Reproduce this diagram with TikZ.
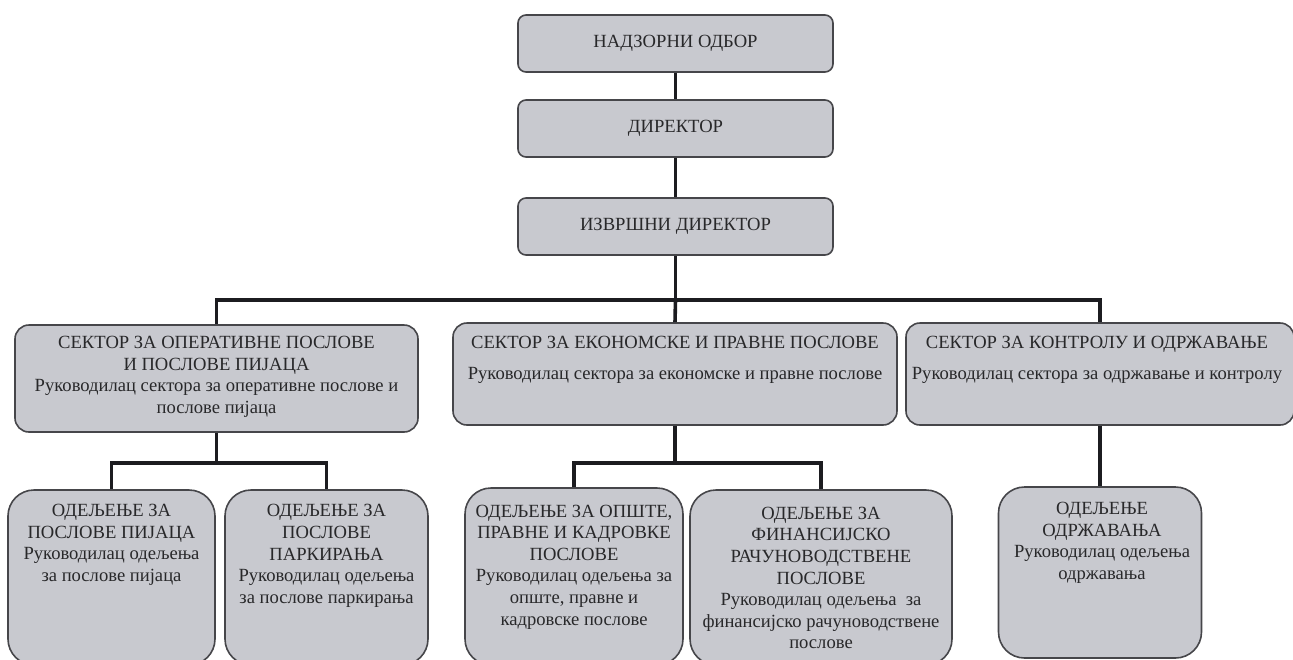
\documentclass[tikz,border=0pt]{standalone}
\usepackage{fontspec}
\setmainfont{Liberation Serif}
\definecolor{boxfill}{RGB}{200,201,207}
\definecolor{boxline}{RGB}{70,70,74}
\definecolor{connc}{RGB}{28,28,32}
\definecolor{textcol}{RGB}{40,40,42}
\begin{document}
\begin{tikzpicture}[x=1pt,y=-1pt,
  box/.style={draw=boxline, line width=1.6pt, fill=boxfill, inner sep=0pt},
  topbox/.style={box, rounded corners=8pt, minimum width=315pt, minimum height=57pt},
  secbox/.style={box, rounded corners=14pt},
  depbox/.style={box, rounded corners=26pt},
  txt/.style={align=center, inner sep=0pt, text=textcol, font=\fontsize{18.6}{21.6}\selectfont},
  conn/.style={line width=3.6pt, draw=connc}]
\useasboundingbox (0,0) rectangle (1293,659);
% top chain
\node[topbox] (top1) at (675.5,43.5) {};
\node[topbox] (top2) at (675.5,128.5) {};
\node[topbox] (top3) at (675.5,226.5) {};
\node[txt] (t1) at (top1.center) {НАДЗОРНИ ОДБОР};
\node[txt] (t2) at (top2.center) {ДИРЕКТОР};
\node[txt] (t3) at (top3.center) {ИЗВРШНИ ДИРЕКТОР};
% sectors
\node[secbox, minimum width=403pt, minimum height=107pt] (sec1) at (216.5,378.5) {};
\node[secbox, minimum width=444pt, minimum height=102pt] (sec2) at (675,374) {};
\node[secbox, minimum width=388pt, minimum height=102pt] (sec3) at (1100,374) {};
\node[txt] (s1) at (216.5,377) {СЕКТОР ЗА ОПЕРАТИВНЕ ПОСЛОВЕ\\И ПОСЛОВЕ ПИЈАЦА\\Руководилац сектора за оперативне послове и\\послове пијаца};
\node[txt] (s2) at (675,360) {СЕКТОР ЗА ЕКОНОМСКЕ И ПРАВНЕ ПОСЛОВЕ\\[10pt]Руководилац сектора за економске и правне послове};
\node[txt] (s3) at (1097,360) {СЕКТОР ЗА КОНТРОЛУ И ОДРЖАВАЊЕ\\[10pt]Руководилац сектора за одржавање и контролу};
% departments
\node[depbox, minimum width=207pt, minimum height=175pt] (d1) at (111.5,577.5) {};
\node[depbox, minimum width=203pt, minimum height=175pt] (d2) at (326.5,577.5) {};
\node[depbox, minimum width=218pt, minimum height=177pt] (d3) at (574,576.5) {};
\node[depbox, minimum width=262pt, minimum height=175pt] (d4) at (821,577.5) {};
\node[depbox, minimum width=203pt, minimum height=171pt] (d5) at (1100,572.5) {};
\node[txt] (e1) at (111.5,545) {ОДЕЉЕЊЕ ЗА\\ПОСЛОВЕ ПИЈАЦА\\Руководилац одељења\\за послове пијаца};
\node[txt] (e2) at (326.5,556) {ОДЕЉЕЊЕ ЗА\\ПОСЛОВЕ\\ПАРКИРАЊА\\Руководилац одељења\\за послове паркирања};
\node[txt] (e3) at (574,567) {ОДЕЉЕЊЕ ЗА ОПШТЕ,\\ПРАВНЕ И КАДРОВКЕ\\ПОСЛОВЕ\\Руководилац одељења за\\опште, правне и\\кадровске послове};
\node[txt] (e4) at (821,578) {ОДЕЉЕЊЕ ЗА\\ФИНАНСИЈСКО\\РАЧУНОВОДСТВЕНЕ\\ПОСЛОВЕ\\Руководилац одељења~ за\\финансијско рачуноводствене\\послове};
\node[txt] (e5) at (1102,543) {ОДЕЉЕЊЕ\\ОДРЖАВАЊА\\Руководилац одељења\\одржавања};
% connectors
\coordinate (bus) at (675.5,300);
\coordinate (j1) at (216.5,463);
\coordinate (j2) at (675,463);
\draw[conn] (top1.south) -- (top2.north);
\draw[conn] (top2.south) -- (top3.north);
\draw[conn] (top3.south) -- (bus);
\draw[conn] (sec1.north) |- (bus) -| (sec3.north);
\draw[conn] (bus) -- (sec2.north);
\draw[conn] (sec1.south) -- (j1);
\draw[conn] (d1.north) |- (j1) -| (d2.north);
\draw[conn] (sec2.south) -- (j2);
\draw[conn] (d3.north) |- (j2) -| (d4.north);
\draw[conn] (sec3.south) -- (d5.north);
\end{tikzpicture}
\end{document}
